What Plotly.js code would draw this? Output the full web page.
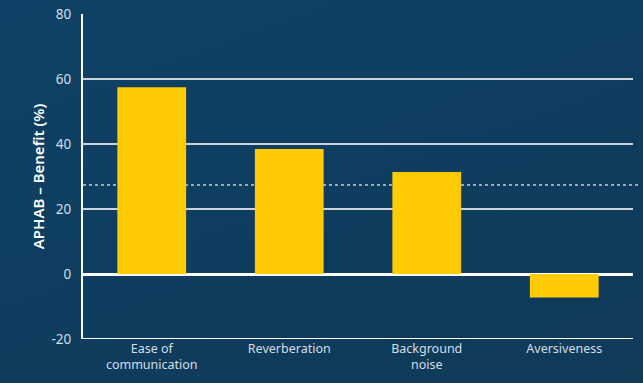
<!DOCTYPE html>
<html>
<head>
<meta charset="utf-8">
<script src="https://cdn.plot.ly/plotly-3.0.1.min.js"></script>
<style>
html,body{margin:0;padding:0;width:643px;height:383px;overflow:hidden;
background:linear-gradient(160deg,#0f4266 0%,#0e3d5f 50%,#103a58 100%);}
#chart{width:643px;height:383px;}
</style>
</head>
<body>
<div id="chart"></div>
<script>
const categories = ["Ease of<br>communication", "Reverberation", "Background<br>noise", "Aversiveness"];
const benefit = [57.5, 38.5, 31.4, -7.2];
const referenceLevel = 27.4;
const yTicks = [-20, 0, 20, 40, 60, 80];

const bars = {
  type: "bar",
  x: categories,
  y: benefit,
  width: 0.5,
  marker: {color: "#ffcb05", line: {width: 0}},
  hoverinfo: "skip"
};

const layout = {
  width: 643, height: 383,
  margin: {l: 83, r: 10, t: 14, b: 44},
  paper_bgcolor: "rgba(0,0,0,0)",
  plot_bgcolor: "rgba(0,0,0,0)",
  showlegend: false,
  font: {family: "Noto Sans, sans-serif", color: "#d5dde5", size: 12},
  xaxis: {
    type: "category",
    showgrid: false,
    showline: false,
    zeroline: false,
    ticks: "",
    tickfont: {size: 12.5, color: "#d5dde5"}
  },
  yaxis: {
    range: [-20, 80],
    tickvals: yTicks,
    ticktext: yTicks.map(String),
    showgrid: true,
    gridcolor: "#c9d3dc",
    gridwidth: 1.5,
    zeroline: true,
    zerolinecolor: "#ffffff",
    zerolinewidth: 3,
    showline: true,
    linecolor: "#ffffff",
    linewidth: 2,
    ticks: "",
    ticklabelstandoff: 7,
    tickfont: {size: 13.5, color: "#d5dde5"},
    title: {text: "APHAB – Benefit (%)", font: {size: 15, color: "#ffffff", weight: 600}, standoff: 3}
  },
  shapes: [
    {type: "line", xref: "paper", x0: 0, x1: 1.01, yref: "y", y0: referenceLevel, y1: referenceLevel,
     line: {color: "#9aa9b7", width: 2, dash: "dot"}, layer: "below"},
    {type: "line", xref: "paper", x0: 0, x1: 1, yref: "y", y0: -20, y1: -20,
     line: {color: "#ffffff", width: 2}, layer: "above"}
  ]
};

Plotly.newPlot("chart", [bars], layout, {displayModeBar: false, staticPlot: true});
</script>
</body>
</html>
